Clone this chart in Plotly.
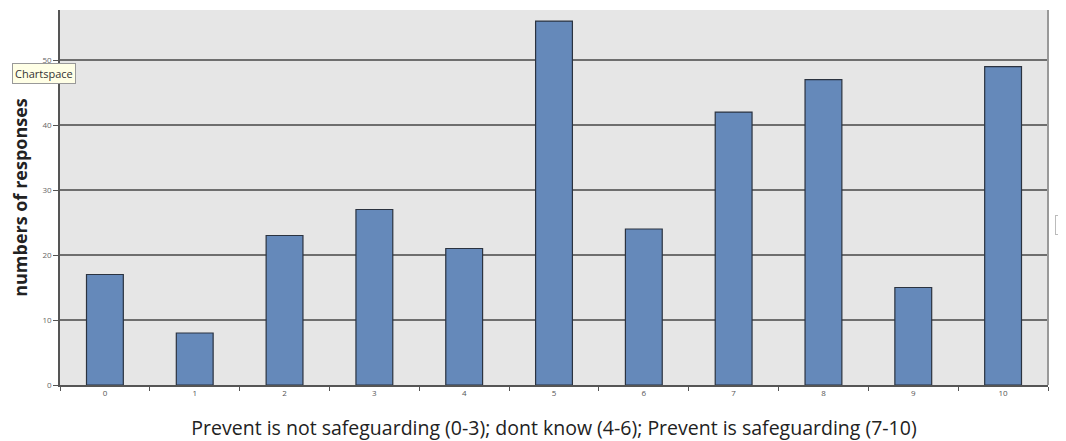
import plotly.graph_objects as go

categories = ["0", "1", "2", "3", "4", "5", "6", "7", "8", "9", "10"]
responses = [17, 8, 23, 27, 21, 56, 24, 42, 47, 15, 49]
y_ticks = [0, 10, 20, 30, 40, 50]

fig = go.Figure()
fig.add_trace(go.Bar(
    x=categories, y=responses, width=0.41,
    marker=dict(color="#6589BA", line=dict(color="#2B3340", width=1.2)),
))

fig.update_layout(
    width=1058, height=433,
    margin=dict(l=52, r=18, t=2, b=56, autoexpand=False),
    paper_bgcolor="white", plot_bgcolor="#E6E6E6",
    showlegend=False,
    font=dict(family="Open Sans, sans-serif"),
)
fig.update_xaxes(
    type="category", range=[-0.5, 10.5],
    showline=True, linecolor="#555555", linewidth=1.5,
    ticks="outside", tickson="boundaries", ticklen=4, tickcolor="#555555",
    tickfont=dict(size=8, color="#555555"),
    showgrid=False,
    title=dict(text="Prevent is not safeguarding (0-3); dont know (4-6); Prevent is safeguarding (7-10)",
               font=dict(size=19.5, color="#222222"), standoff=24),
)
fig.update_yaxes(
    range=[0, 57.7], tickvals=y_ticks,
    showline=True, linecolor="#555555", linewidth=1.5,
    ticks="outside", ticklen=5, tickcolor="#555555",
    tickfont=dict(size=8, color="#666666"),
    showgrid=True, gridcolor="#6E6E6E", gridwidth=1.5,
    zeroline=False,
    title=dict(text="<b>numbers of responses</b>", font=dict(size=18, color="#222222"), standoff=18),
)
# right border of plot area
fig.add_shape(type="line", xref="paper", yref="paper", x0=1, x1=1, y0=0, y1=1,
              line=dict(color="#999999", width=2))
# tooltip-like label
fig.add_annotation(text="Chartspace", xref="paper", yref="paper", x=-0.0486, y=0.832,
                   xanchor="left", yanchor="middle", showarrow=False,
                   font=dict(size=11, color="#333333"), bgcolor="#FFFFE6",
                   bordercolor="#999999", borderwidth=1, borderpad=2)
fig.add_annotation(text="C", xref="paper", yref="paper", x=1.007, y=0.427,
                   xanchor="left", yanchor="middle", showarrow=False,
                   font=dict(size=10, color="#777777"), bgcolor="white",
                   bordercolor="#BBBBBB", borderwidth=1, borderpad=2)

fig.write_html("out.html")
